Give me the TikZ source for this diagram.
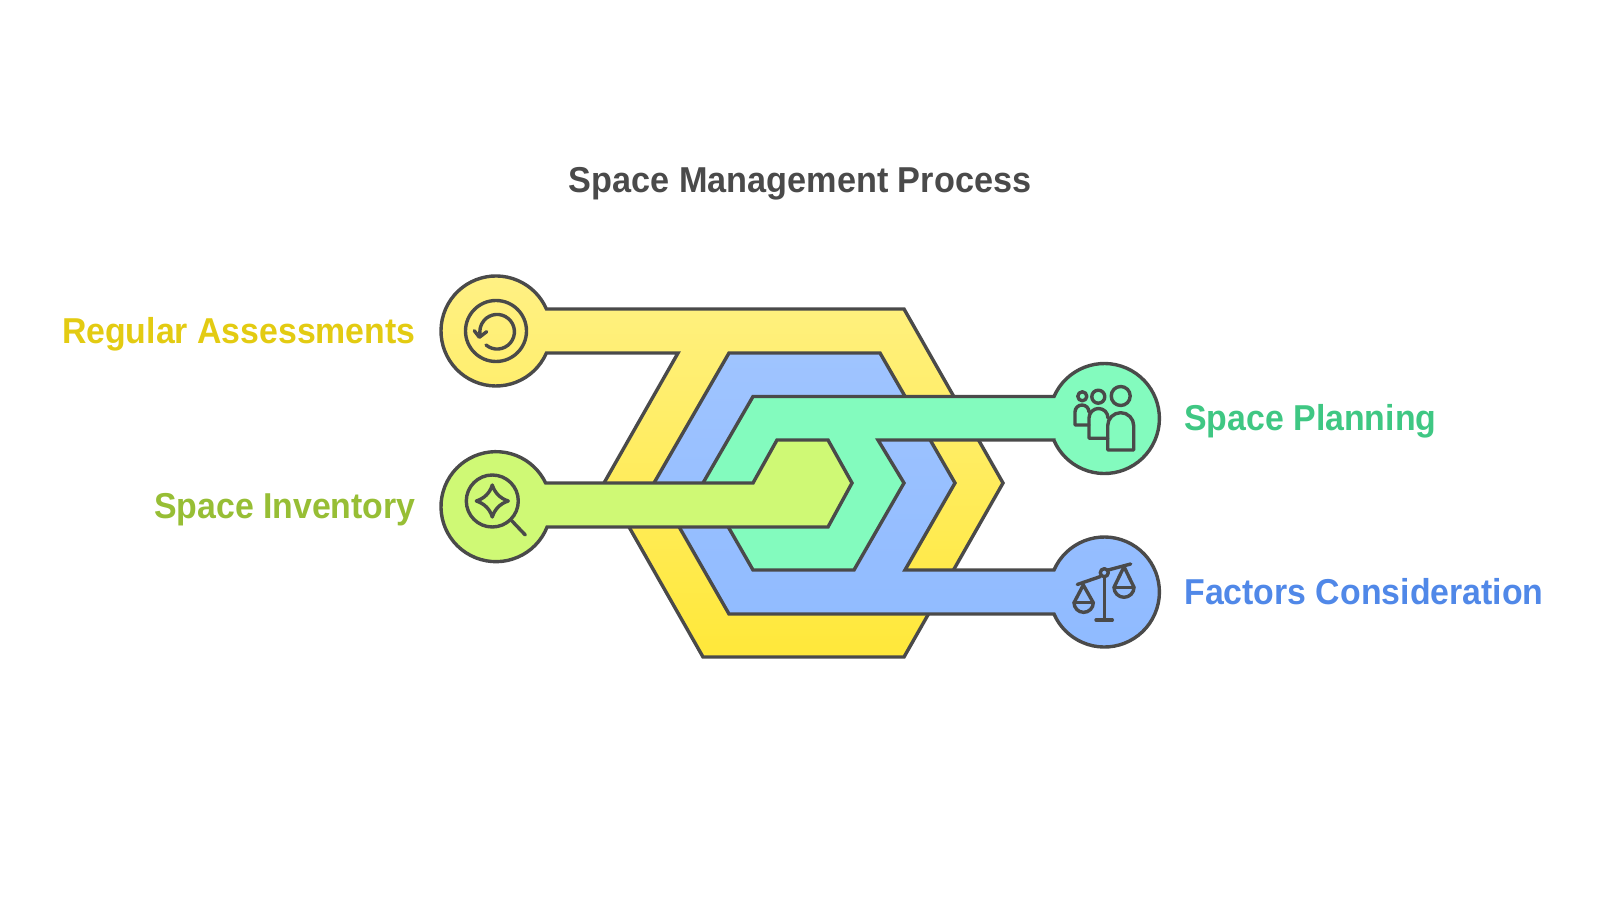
\documentclass[tikz,border=0pt]{standalone}
\usepackage{fontspec}
\setmainfont{Liberation Sans}
\definecolor{outline}{HTML}{4A4A4A}
\definecolor{yellowtop}{HTML}{FFF185}
\definecolor{yellowbot}{HTML}{FFE83A}
\definecolor{bluetop}{HTML}{9FC4FF}
\definecolor{bluebot}{HTML}{8FBAFF}
\definecolor{mintfill}{HTML}{83FBBE}
\definecolor{limefill}{HTML}{CFF975}
\tikzset{
  band/.style={draw=outline,line width=1.7pt,line join=miter},
  icon/.style={draw=outline,line width=1.7pt,line cap=round,line join=round},
  label/.style={font=\bfseries\fontsize{18}{22}\selectfont,inner sep=0pt,xscale=0.94},
}
\begin{document}
\begin{tikzpicture}[x=0.5pt,y=0.5pt]
\useasboundingbox (0,0) rectangle (1600,900);

% bands, lowest first
\draw [band,top color=yellowtop,bottom color=yellowbot] (546.4,547) arc (-23.6:-336.4:55) -- (904,591) -- (1003,417) -- (904,243) -- (703,243) -- (604,417) -- (678,547) -- cycle;
\draw [band,top color=bluetop,bottom color=bluebot] (729,547) -- (880,547) -- (955,417) -- (905,330) -- (1054,330) arc (156.4:-156.4:55) -- (729,286) -- (654,417) -- cycle;
\draw [band,fill=mintfill] (753,503.5) -- (1054,503.5) arc (156.4:-156.4:55) -- (1054,460) -- (878,460) -- (904,417) -- (854,330) -- (753,330) -- (703,417) -- cycle;
\draw [band,fill=limefill] (753,417) -- (777,460) -- (828,460) -- (852,417) -- (828,373) -- (547.1,373) arc (-21.7:-334.5:55) -- cycle;

% regular assessments icon
\draw [icon] (496,569) circle (30.5);
\draw [icon] (486,555) arc (-130:195:17.3);
\draw [icon] (474.3,569.3) -- (479.3,562.7) -- (486.7,568.3);

% space inventory icon
\draw [icon] (492.3,399) circle (26);
\draw [icon] (511.7,379.3) -- (525.3,365);
\draw [icon] (492.3,415) .. controls (494.8,407) and (500.3,401.5) .. (508.3,399) .. controls (500.3,396.5) and (494.8,391) .. (492.3,383) .. controls (489.8,391) and (484.3,396.5) .. (476.3,399) .. controls (484.3,401.5) and (489.8,407) .. cycle;

% space planning icon
\draw [icon] (1082.3,503.7) circle (4.5);
\draw [icon] (1098.3,503.3) circle (6.5);
\draw [icon] (1120.7,504) circle (9.5);
\draw [icon] (1107.7,450) -- (1133.7,450) -- (1133.7,474.3) arc (0:180:13) -- cycle;
\draw [icon] (1107.7,461.7) -- (1089,461.7) -- (1089,482) arc (180:0:9.5);
\draw [icon] (1089,475) -- (1075,475) -- (1075,488) arc (180:0:7);

% factors consideration icon
\draw [icon] (1104.3,323.3) -- (1104.3,280);
\draw [icon] (1096,280) -- (1112.3,280);
\draw [icon] (1104.3,327.3) circle (4);
\draw [icon] (1077.3,315.5) -- (1100.5,323.5);
\draw [icon] (1108.2,330) -- (1130.7,336);
\draw [icon] (1083.3,315) -- (1074,297.3) arc (180:360:9.65) -- cycle;
\draw [icon] (1074,297.3) -- (1093.3,297.3);
\draw [icon] (1124,333.3) -- (1114,312.7) arc (180:360:10) -- cycle;
\draw [icon] (1114,312.7) -- (1134,312.7);

% labels
\node [label,anchor=base,text=outline,xscale=1.012] (title) at (800,707.5) {Space Management Process};
\node [label,anchor=base east,text={rgb,255:red,227;green,203;blue,18}] (assess) at (416,556) {Regular Assessments};
\node [label,anchor=base east,text={rgb,255:red,151;green,190;blue,53}] (inventory) at (416,381) {Space Inventory};
\node [label,anchor=base west,text={rgb,255:red,63;green,199;blue,131}] (planning) at (1184,469) {Space Planning};
\node [label,anchor=base west,text={rgb,255:red,80;green,136;blue,232}] (factors) at (1184,295) {Factors Consideration};

\end{tikzpicture}
\end{document}
